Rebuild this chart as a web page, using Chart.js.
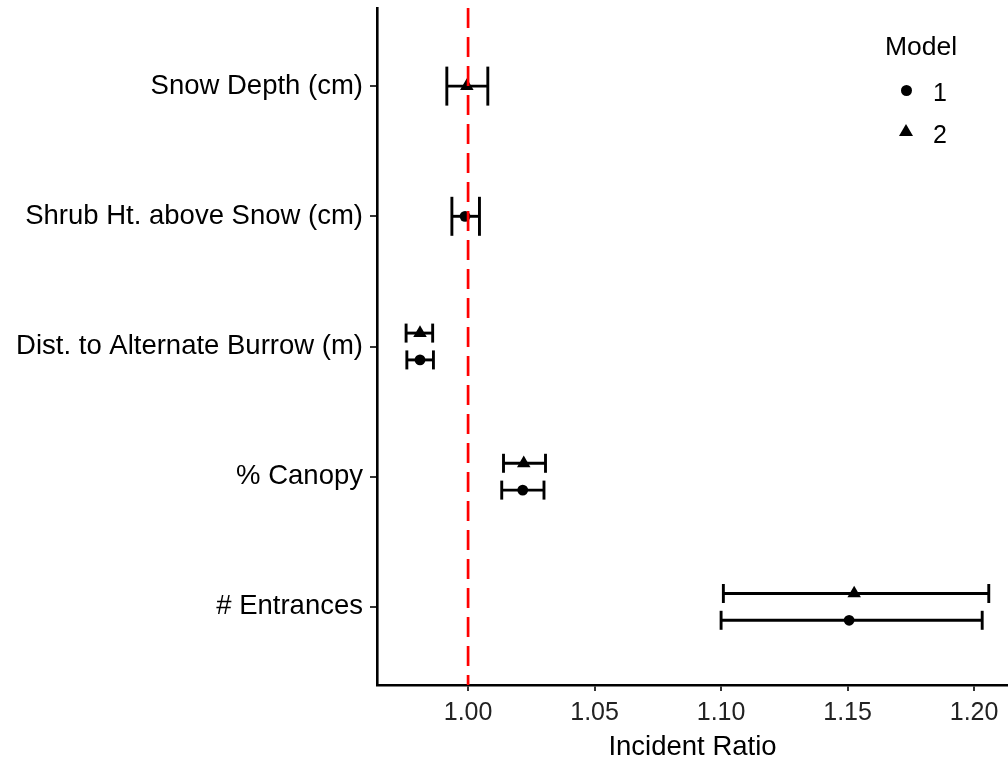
<!DOCTYPE html>
<html>
<head>
<meta charset="utf-8">
<script src="https://cdn.jsdelivr.net/npm/chart.js@4"></script>
<style>
  html, body { margin: 0; padding: 0; background: #fff; }
  #wrap { position: relative; width: 1008px; height: 761px; }
  #legend { position: absolute; left: 0; top: 0; font-family: "Liberation Sans", Arial, sans-serif; font-size: 25px; color: #000; }
  #legend .t { position: absolute; white-space: nowrap; line-height: 1; }
  .dot { position: absolute; width: 11px; height: 11px; border-radius: 50%; background: #000; }
  .tri { position: absolute; width: 0; height: 0; border-left: 7px solid transparent; border-right: 7px solid transparent; border-bottom: 12px solid #000; }
</style>
</head>
<body>
<div id="wrap">
  <canvas id="chart" width="1008" height="761"></canvas>
  <div id="legend">
    <div class="t" style="left:885px; top:33px; font-size:26.5px;">Model</div>
    <div class="dot" style="left:901px; top:85px;"></div>
    <div class="t" style="left:933px; top:80px;">1</div>
    <div class="tri" style="left:899px; top:124px;"></div>
    <div class="t" style="left:933px; top:122px;">2</div>
  </div>
</div>
<script>
// Categories, top to bottom
const categories = ['Snow Depth (cm)', 'Shrub Ht. above Snow (cm)', 'Dist. to Alternate Burrow (m)', '% Canopy', '# Entrances'];

// Model 1 (circles): estimate and interval
const model1Est = [null, 0.9988, 0.9810, 1.0216, 1.1506];
const model1Low = [null, 0.9936, 0.9758, 1.0133, 1.1000];
const model1High = [null, 1.0045, 0.9863, 1.0300, 1.2032];

// Model 2 (triangles)
const model2Est = [0.9995, null, 0.9810, 1.0220, 1.1526];
const model2Low = [0.9916, null, 0.9755, 1.0140, 1.1009];
const model2High = [1.0078, null, 0.9860, 1.0306, 1.2058];

const xTicks = [1.00, 1.05, 1.10, 1.15, 1.20];
const refValue = 1;

const FAMILY = '"Liberation Sans", Arial, sans-serif';
const dodge = 0.103;

function rowY(i, model) {
    const both = model1Est[i] !== null && model2Est[i] !== null;
    if (!both) return i + 1;
    return model === 1 ? i + 1 + dodge : i + 1 - dodge;
}

// no extra padding for half labels, the plot box is fixed
function noPadding(scale) {
    scale.paddingTop = 0;
    scale.paddingBottom = 0;
    scale.paddingLeft = 0;
    scale.paddingRight = 0;
}

// Error bars: one little line per interval, caps from the 'line' point style
const errorSets = [];
categories.forEach((c, i) => {
    const both = model1Est[i] !== null && model2Est[i] !== null;
    const cap = both ? 9.5 : 19.5;
    [[1, model1Low, model1High], [2, model2Low, model2High]].forEach(([m, lo, hi]) => {
        if (lo[i] === null) return;
        const y = rowY(i, m);
        errorSets.push({
            type: 'line',
            data: [{ x: lo[i], y: y }, { x: hi[i], y: y }],
            borderColor: '#000',
            borderWidth: 2.9,
            pointStyle: 'line',
            rotation: 90,
            pointRadius: cap,
            pointBorderWidth: 2.9,
            pointBorderColor: '#000',
            clip: false,
            order: 3
        });
    });
});

const model1Points = [];
const model2Points = [];
categories.forEach((c, i) => {
    if (model1Est[i] !== null) model1Points.push({ x: model1Est[i], y: rowY(i, 1) });
    if (model2Est[i] !== null) model2Points.push({ x: model2Est[i], y: rowY(i, 2) });
});

const ctx = document.getElementById('chart').getContext('2d');
new Chart(ctx, {
    type: 'scatter',
    data: {
        datasets: [
            ...errorSets,
            {
                label: '1',
                data: model1Points,
                pointStyle: 'circle',
                pointRadius: 5.4,
                backgroundColor: '#000',
                borderColor: '#000',
                borderWidth: 0,
                order: 2
            },
            {
                label: '2',
                data: model2Points,
                pointStyle: 'triangle',
                pointRadius: 7.8,
                backgroundColor: '#000',
                borderColor: '#000',
                borderWidth: 0,
                order: 2
            },
            {
                type: 'line',
                data: [{ x: refValue, y: 0.4 }, { x: refValue, y: 5.6 }],
                borderColor: '#ff0000',
                borderWidth: 2.7,
                borderDash: [20, 9],
                pointRadius: 0,
                order: 1
            }
        ]
    },
    options: {
        responsive: false,
        animation: false,
        events: [],
        layout: { autoPadding: false, padding: { top: 8, right: 0, bottom: 0, left: 0 } },
        plugins: {
            legend: { display: false },
            tooltip: { enabled: false }
        },
        scales: {
            x: {
                type: 'linear',
                min: 0.964,
                max: 1.2134,
                afterBuildTicks: (scale) => { scale.ticks = xTicks.map(v => ({ value: v })); },
                afterFit: (scale) => { scale.height = 76; noPadding(scale); },
                ticks: {
                    color: '#222',
                    font: { family: FAMILY, size: 25 },
                    padding: 7,
                    maxRotation: 0,
                    callback: (v) => v.toFixed(2)
                },
                grid: { drawOnChartArea: false, color: '#333', lineWidth: 2, tickLength: 6 },
                border: { display: true, color: '#000', width: 2.6 },
                title: {
                    display: true,
                    text: 'Incident Ratio',
                    color: '#000',
                    font: { family: FAMILY, size: 27.5, lineHeight: 1 },
                    padding: { top: 0, bottom: 0 }
                }
            },
            y: {
                type: 'linear',
                min: 0.4,
                max: 5.6,
                reverse: true,
                afterBuildTicks: (scale) => { scale.ticks = categories.map((c, i) => ({ value: i + 1 })); },
                afterFit: (scale) => { scale.width = 377; noPadding(scale); },
                ticks: {
                    color: '#000',
                    font: { family: FAMILY, size: 27.5 },
                    padding: 7,
                    callback: (v) => categories[v - 1]
                },
                grid: { drawOnChartArea: false, color: '#333', lineWidth: 2, tickLength: 7 },
                border: { display: true, color: '#000', width: 2.6 }
            }
        }
    }
});
</script>
</body>
</html>
